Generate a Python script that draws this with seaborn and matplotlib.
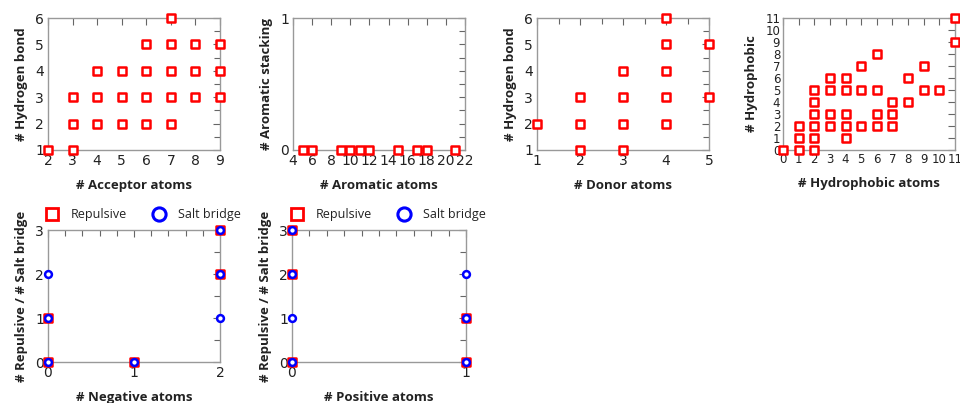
import matplotlib
matplotlib.use("Agg")
import matplotlib.pyplot as plt
import seaborn as sns
import pandas as pd
from matplotlib.ticker import MultipleLocator
from matplotlib.lines import Line2D

sns.set_theme(style="white")
plt.rcParams['font.family'] = ['DejaVu Sans']

# ---- data ----
acc_x = [2, 3, 3, 3, 4, 4, 4, 5, 5, 5, 6, 6, 6, 6, 7, 7, 7, 7, 7, 8, 8, 8, 9, 9, 9]
acc_y = [1, 1, 2, 3, 2, 3, 4, 2, 3, 4, 2, 3, 4, 5, 2, 3, 4, 5, 6, 3, 4, 5, 3, 4, 5]

aro_x = [5, 6, 9, 10, 11, 12, 15, 17, 18, 21]
aro_y = [0, 0, 0, 0, 0, 0, 0, 0, 0, 0]

don_x = [1, 2, 2, 2, 3, 3, 3, 3, 4, 4, 4, 4, 4, 5, 5]
don_y = [2, 1, 2, 3, 1, 2, 3, 4, 2, 3, 4, 5, 6, 3, 5]

hyd_x = [0, 1, 1, 1, 2, 2, 2, 2, 2, 2, 3, 3, 3, 3, 4, 4, 4, 4, 4, 5, 5, 5,
         6, 6, 6, 6, 7, 7, 7, 8, 8, 9, 9, 10, 11, 11]
hyd_y = [0, 0, 1, 2, 0, 1, 2, 3, 4, 5, 2, 3, 5, 6, 1, 2, 3, 5, 6, 2, 5, 7,
         2, 3, 5, 8, 2, 3, 4, 4, 6, 5, 7, 5, 9, 11]

neg_rep_x = [0, 0, 1, 2, 2]
neg_rep_y = [0, 1, 0, 2, 3]
neg_salt_x = [0, 0, 0, 1, 2, 2, 2]
neg_salt_y = [0, 1, 2, 0, 1, 2, 3]

pos_rep_x = [0, 0, 0, 1, 1]
pos_rep_y = [0, 2, 3, 0, 1]
pos_salt_x = [0, 0, 0, 0, 1, 1, 1]
pos_salt_y = [0, 1, 2, 3, 0, 1, 2]

W, H = 960, 403
fig = plt.figure(figsize=(W / 100, H / 100), dpi=100)


def rect(x0, x1, y0, y1):
    return [x0 / W, 1 - y1 / H, (x1 - x0) / W, (y1 - y0) / H]


RED = "#ff0000"
BLUE = "#0000ff"
SPINE = "#999999"
LABEL_FONT = dict(family=["Open Sans", "DejaVu Sans"], fontsize=9.5, fontweight="bold", color="#222222")


def sq(ax, x, y):
    df = pd.DataFrame({"x": x, "y": y})
    sns.scatterplot(data=df, x="x", y="y", ax=ax, marker="s", s=38,
                    facecolor="white", edgecolor=RED, linewidth=1.8,
                    clip_on=False, zorder=3, legend=False)


def circ(ax, x, y):
    df = pd.DataFrame({"x": x, "y": y})
    sns.scatterplot(data=df, x="x", y="y", ax=ax, marker="o", s=24,
                    facecolor="white", edgecolor=BLUE, linewidth=1.8,
                    clip_on=False, zorder=4, legend=False)


def style(ax, xlim, ylim, xmaj, xmin, ymaj, ymin, xlabel, ylabel, lsize=10):
    ax.set_xlim(*xlim)
    ax.set_ylim(*ylim)
    ax.xaxis.set_major_locator(MultipleLocator(xmaj))
    ax.yaxis.set_major_locator(MultipleLocator(ymaj))
    if xmin:
        ax.xaxis.set_minor_locator(MultipleLocator(xmin))
    if ymin:
        ax.yaxis.set_minor_locator(MultipleLocator(ymin))
    for s in ax.spines.values():
        s.set_color(SPINE)
        s.set_linewidth(1.0)
    ax.tick_params(which="both", direction="in", top=True, right=True,
                   color="#666666", width=0.8, labelsize=lsize, labelcolor="#222222", pad=3)
    ax.tick_params(which="major", length=5)
    ax.tick_params(which="minor", length=4)
    ax.set_xlabel(xlabel, labelpad=8, **LABEL_FONT)
    ax.set_ylabel(ylabel, labelpad=5, **LABEL_FONT)
    ax.grid(False)


ax1 = fig.add_axes(rect(48, 220, 18, 150))
sq(ax1, acc_x, acc_y)
style(ax1, (2, 9), (1, 6), 1, None, 1, 0.5, "# Acceptor atoms", "# Hydrogen bond")

ax2 = fig.add_axes(rect(293, 465, 18, 150))
sq(ax2, aro_x, aro_y)
style(ax2, (4, 22), (0, 1), 2, None, 1, 0.1, "# Aromatic atoms", "# Aromatic stacking")

ax3 = fig.add_axes(rect(537, 709, 18, 150))
sq(ax3, don_x, don_y)
style(ax3, (1, 5), (1, 6), 1, 0.5, 1, 0.5, "# Donor atoms", "# Hydrogen bond")

ax4 = fig.add_axes(rect(783, 955, 18, 150))
sq(ax4, hyd_x, hyd_y)
style(ax4, (0, 11), (0, 11), 1, None, 1, None, "# Hydrophobic atoms", "# Hydrophobic", lsize=8.5)
ax4.tick_params(axis="y", pad=2)
ax4.tick_params(axis="x", pad=2)

ax5 = fig.add_axes(rect(48, 220, 230, 362))
sq(ax5, neg_rep_x, neg_rep_y)
circ(ax5, neg_salt_x, neg_salt_y)
style(ax5, (0, 2), (0, 3), 1, 0.2, 1, 0.5, "# Negative atoms", "# Repulsive / # Salt bridge")

ax6 = fig.add_axes(rect(292, 466, 230, 362))
sq(ax6, pos_rep_x, pos_rep_y)
circ(ax6, pos_salt_x, pos_salt_y)
style(ax6, (0, 1), (0, 3), 1, 0.1, 1, 0.5, "# Positive atoms", "# Repulsive / # Salt bridge")

handles = [
    Line2D([], [], linestyle="none", marker="s", markersize=9, markerfacecolor="white",
           markeredgecolor=RED, markeredgewidth=2, label="Repulsive"),
    Line2D([], [], linestyle="none", marker="o", markersize=9.5, markerfacecolor="white",
           markeredgecolor=BLUE, markeredgewidth=2.2, label="Salt bridge"),
]
for ax in (ax5, ax6):
    ax.legend(handles=handles, loc="lower center", bbox_to_anchor=(0.55, 1.03), ncol=2,
              frameon=False, prop=dict(family=["Open Sans", "DejaVu Sans"], size=9),
              handletextpad=0.9, columnspacing=2.0, borderaxespad=0, handlelength=1.2,
              labelcolor="#222222")

fig.savefig("out.png", dpi=100)
